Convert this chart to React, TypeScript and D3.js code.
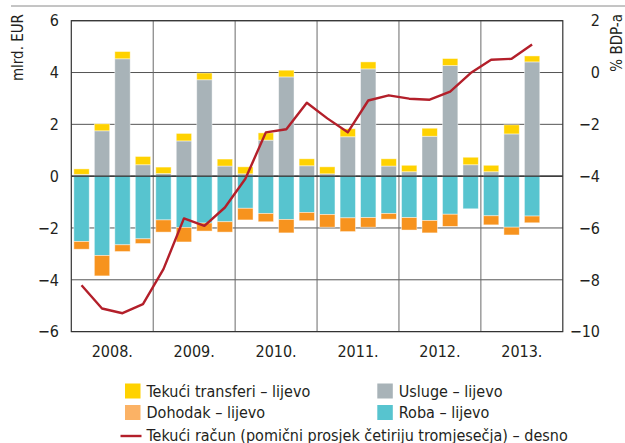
import React from "react";
import * as d3 from "d3";

// Quarterly balance of payments components (bn EUR) and current account (% of GDP)
const years = ["2008.", "2009.", "2010.", "2011.", "2012.", "2013."];
const quarterCount = 24;

const usluge = [
  0.07, 1.75, 4.53, 0.44,
  0.1, 1.36, 3.72, 0.39,
  0.09, 1.39, 3.83, 0.4,
  0.09, 1.52, 4.14, 0.39,
  0.17, 1.54, 4.27, 0.44,
  0.17, 1.63, 4.41,
];
const transferi = [
  0.21, 0.27, 0.28, 0.32,
  0.25, 0.29, 0.26, 0.27,
  0.27, 0.28, 0.26, 0.27,
  0.27, 0.31, 0.27, 0.28,
  0.25, 0.31, 0.27, 0.29,
  0.25, 0.35, 0.23,
];
const roba = [
  -2.52, -3.06, -2.65, -2.42,
  -1.69, -1.98, -1.81, -1.76,
  -1.24, -1.44, -1.67, -1.4,
  -1.48, -1.61, -1.6, -1.44,
  -1.6, -1.71, -1.47, -1.26,
  -1.53, -1.97, -1.54,
];
const dohodak = [
  -0.3, -0.79, -0.26, -0.18,
  -0.47, -0.56, -0.31, -0.4,
  -0.45, -0.32, -0.52, -0.32,
  -0.49, -0.53, -0.37, -0.22,
  -0.48, -0.48, -0.47, 0,
  -0.35, -0.3, -0.26,
];
const tekuciRacun = [
  -8.21, -9.11, -9.29, -8.94,
  -7.59, -5.63, -5.92, -5.21,
  -4.1, -2.31, -2.19, -1.17,
  -1.77, -2.31, -1.08, -0.88,
  -1.01, -1.05, -0.74, -0.02,
  0.49, 0.53, 1.08,
];

const leftTicks = [-6, -4, -2, 0, 2, 4, 6];
const rightTicks = [-10, -8, -6, -4, -2, 0, 2];

const COLORS = {
  usluge: "#a8b3b8",
  transferi: "#ffd200",
  roba: "#57c4cf",
  dohodak: "#f7931e",
  dohodakLegend: "#fbb265",
  line: "#b31f2a",
  grid: "#555",
  text: "#231f20",
};

const FONT = "'Liberation Sans Narrow', 'Arial Narrow', 'DejaVu Sans Condensed', sans-serif";

const W = 625;
const H = 443;
const plot = { left: 71.3, right: 562.8, top: 20.7, bottom: 331.6 };

export default function App() {
  const x = d3
    .scaleBand<number>()
    .domain(d3.range(quarterCount))
    .range([plot.left, plot.right])
    .paddingInner(0.25)
    .paddingOuter(0.125);
  const yL = d3.scaleLinear().domain([-6, 6]).range([plot.bottom, plot.top]);
  const yR = d3.scaleLinear().domain([-10, 2]).range([plot.bottom, plot.top]);
  const yearX = d3
    .scaleBand<string>()
    .domain(years)
    .range([plot.left, plot.right]);

  const rows = usluge.map((_, i) => ({
    i,
    usluge: usluge[i],
    transferi: transferi[i],
    roba: roba[i],
    dohodak: dohodak[i],
  }));
  const keys = ["usluge", "transferi", "roba", "dohodak"] as const;
  const series = d3
    .stack<any>()
    .keys(keys as unknown as string[])
    .offset(d3.stackOffsetDiverging)(rows);

  const line = d3
    .line<number>()
    .x((_, i) => (x(i) as number) + x.bandwidth() / 2)
    .y((d) => yR(d));

  const legendRows = [
    { type: "rect", color: COLORS.transferi, label: "Tekući transferi – lijevo", x: 125, y: 383.5 },
    { type: "rect", color: COLORS.usluge, label: "Usluge – lijevo", x: 377.3, y: 383.5 },
    { type: "rect", color: COLORS.dohodakLegend, label: "Dohodak – lijevo", x: 125, y: 405 },
    { type: "rect", color: COLORS.roba, label: "Roba – lijevo", x: 377.3, y: 405 },
  ];

  return (
    <svg
      width={W}
      height={H}
      style={{ position: "absolute", left: 0, top: 0, background: "#fff" }}
      fontFamily={FONT}
    >
      {/* header rule */}
      <line x1={11} x2={W} y1={6} y2={6} stroke="#8a8a8a" strokeWidth={1} />

      {/* grid */}
      {leftTicks.map((t) => (
        <line
          key={"h" + t}
          x1={plot.left}
          x2={plot.right}
          y1={yL(t)}
          y2={yL(t)}
          stroke={COLORS.grid}
          strokeWidth={1}
        />
      ))}
      {years.slice(1).map((yr) => (
        <line
          key={"v" + yr}
          x1={yearX(yr)}
          x2={yearX(yr)}
          y1={plot.top}
          y2={plot.bottom}
          stroke="#6a6a6a"
          strokeWidth={1}
        />
      ))}

      {/* stacked bars */}
      {series.map((s) => (
        <g key={s.key} fill={(COLORS as any)[s.key]}>
          {s.map((d, i) =>
            d[1] - d[0] === 0 ? null : (
              <rect
                key={i}
                x={x(i)}
                width={x.bandwidth()}
                y={yL(Math.max(d[0], d[1]))}
                height={Math.abs(yL(d[0]) - yL(d[1]))}
                stroke="rgba(255,255,255,0.55)"
                strokeWidth={0.8}
              />
            )
          )}
        </g>
      ))}

      {/* zero line and frame */}
      <line x1={plot.left} x2={plot.right} y1={yL(0)} y2={yL(0)} stroke="#222" strokeWidth={1.2} />
      <rect
        x={plot.left}
        y={plot.top}
        width={plot.right - plot.left}
        height={plot.bottom - plot.top}
        fill="none"
        stroke="#333"
        strokeWidth={1.2}
      />

      {/* current account line */}
      <path
        d={line(tekuciRacun) as string}
        fill="none"
        stroke={COLORS.line}
        strokeWidth={2.4}
        strokeLinejoin="round"
      />

      {/* axes labels */}
      {leftTicks.map((t) => (
        <text
          key={"lt" + t}
          x={59}
          y={yL(t)}
          dy="0.36em"
          textAnchor="end"
          fontSize={16}
          fill={COLORS.text}
        >
          {t < 0 ? "−" + Math.abs(t) : t}
        </text>
      ))}
      {rightTicks.map((t) => (
        <text
          key={"rt" + t}
          x={600}
          y={yR(t)}
          dy="0.36em"
          textAnchor="end"
          fontSize={16}
          fill={COLORS.text}
        >
          {t < 0 ? "−" + Math.abs(t) : t}
        </text>
      ))}
      {years.map((yr) => (
        <text
          key={yr}
          x={(yearX(yr) as number) + yearX.bandwidth() / 2}
          y={357}
          textAnchor="middle"
          fontSize={16}
          fill={COLORS.text}
        >
          {yr}
        </text>
      ))}
      <text
        transform="translate(22.5,14) rotate(-90)"
        textAnchor="end"
        fontSize={15}
        fill={COLORS.text}
      >
        mlrd. EUR
      </text>
      <text
        transform="translate(622,14) rotate(-90)"
        textAnchor="end"
        fontSize={15}
        fill={COLORS.text}
      >
        % BDP-a
      </text>

      {/* legend */}
      {legendRows.map((r) => (
        <g key={r.label}>
          <rect x={r.x} y={r.y} width={15.5} height={15} fill={r.color} />
          <text x={r.x + 21.5} y={r.y + 13.2} fontSize={16} fill={COLORS.text}>
            {r.label}
          </text>
        </g>
      ))}
      <line x1={120.5} x2={141.5} y1={436} y2={436} stroke={COLORS.line} strokeWidth={2.4} />
      <text x={146.5} y={440.5} fontSize={16} fill={COLORS.text}>
        Tekući račun (pomični prosjek četiriju tromjesečja) – desno
      </text>
    </svg>
  );
}
